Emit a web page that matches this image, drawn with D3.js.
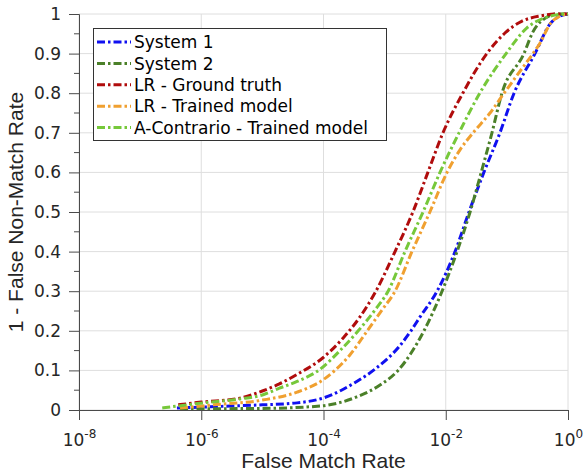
<!DOCTYPE html>
<html>
<head>
<meta charset="utf-8">
<script src="https://cdnjs.cloudflare.com/ajax/libs/d3/7.8.5/d3.min.js"></script>
<style>
body { margin: 0; background: #fff; }
svg { display: block; }
</style>
</head>
<body>
<svg class="roc" width="584" height="471"></svg>
<script>
// tick values
var xTicks = [1e-8, 1e-6, 1e-4, 1e-2, 1];
var xTickExp = ["-8", "-6", "-4", "-2", "0"];
var yTicks = [0, 0.1, 0.2, 0.3, 0.4, 0.5, 0.6, 0.7, 0.8, 0.9, 1];
var yMinorTicks = [0.05, 0.15, 0.25, 0.35, 0.45, 0.55, 0.65, 0.75, 0.85, 0.95];

// series: [false match rate, 1 - false non-match rate]
var seriesNames = ["System 1", "System 2", "LR - Ground truth", "LR - Trained model", "A-Contrario - Trained model"];
var seriesColours = ["#1010f0", "#4b8029", "#b00c0c", "#f0a030", "#76c83a"];

var system1 = [[4.0e-7, 0.005], [2.95e-6, 0.01], [1.0e-5, 0.013], [3.7e-5, 0.018], [9.8e-5, 0.03],
    [3.5e-4, 0.072], [7.2e-4, 0.105], [1.79e-3, 0.163], [2.7e-3, 0.2], [3.8e-3, 0.235], [7.2e-3, 0.3],
    [1.42e-2, 0.4], [2.4e-2, 0.5], [4.2e-2, 0.6], [7.7e-2, 0.7], [0.131, 0.8], [0.288, 0.9],
    [0.51, 0.975], [0.74, 0.995], [1, 1]];
var system2 = [[4.5e-7, 0.003], [1.0e-5, 0.004], [8.8e-5, 0.01], [3.5e-4, 0.033], [8.4e-4, 0.063],
    [1.66e-3, 0.1], [4.4e-3, 0.2], [8.7e-3, 0.3], [1.53e-2, 0.4], [2.5e-2, 0.5], [3.8e-2, 0.6],
    [5.7e-2, 0.7], [8.3e-2, 0.8], [0.19, 0.9], [0.267, 0.955], [0.45, 0.992], [0.66, 1], [1, 1]];
var lrGroundTruth = [[4.2e-7, 0.013], [1.0e-6, 0.02], [4.3e-6, 0.03], [1.0e-5, 0.048], [1.9e-5, 0.066],
    [3.7e-5, 0.09], [9.8e-5, 0.132], [2.1e-4, 0.182], [3.95e-4, 0.235], [7.2e-4, 0.3], [1.48e-3, 0.4],
    [2.9e-3, 0.5], [5.1e-3, 0.6], [9.0e-3, 0.7], [1.9e-2, 0.8], [4.7e-2, 0.9], [9.3e-2, 0.952],
    [0.177, 0.982], [0.35, 0.995], [0.66, 1], [1, 1]];
var lrTrained = [[4.5e-7, 0.005], [1.56e-6, 0.013], [1.0e-5, 0.025], [3.7e-5, 0.045], [9.8e-5, 0.076],
    [1.54e-4, 0.1], [2.7e-4, 0.139], [5.2e-4, 0.2], [9.1e-4, 0.253], [1.48e-3, 0.3], [2.8e-3, 0.4],
    [5.5e-3, 0.5], [1.05e-2, 0.6], [1.71e-2, 0.657], [2.8e-2, 0.7], [5.3e-2, 0.75], [9.0e-2, 0.8],
    [0.184, 0.866], [0.267, 0.9], [0.35, 0.927], [0.51, 0.975], [0.74, 0.995], [1, 1]];
var aContrario = [[2.3e-7, 0.005], [1.07e-6, 0.018], [4.3e-6, 0.028], [1.0e-5, 0.038], [1.9e-5, 0.055],
    [3.7e-5, 0.072], [8.8e-5, 0.103], [1.86e-4, 0.15], [3.7e-4, 0.2], [7.0e-4, 0.253], [1.14e-3, 0.3],
    [2.15e-3, 0.4], [4.25e-3, 0.5], [8.05e-3, 0.6], [1.65e-2, 0.7], [3.6e-2, 0.8], [9.7e-2, 0.9],
    [0.213, 0.965], [0.45, 0.992], [0.96, 1], [1, 1]];

(function rocChartIIFE(){
    var svg = d3.select("svg.roc"),
        margin = {top: 14, right: 16, bottom: 61, left: 79},
        width = +svg.attr("width") - margin.left - margin.right,
        height = +svg.attr("height") - margin.top - margin.bottom,
        g = svg.append("g").attr("transform", "translate(" + margin.left + "," + margin.top + ")");

    var tickFont = "DejaVu Sans, sans-serif";
    var labelFont = "Liberation Sans, Arial, sans-serif";
    var axisColour = "#4a4a4a";
    var allSeries = [system1, system2, lrGroundTruth, lrTrained, aContrario];

    var x = d3.scaleLog().domain([1e-8, 1]).range([0, width]);
    var y = d3.scaleLinear().domain([0, 1]).range([height, 0]);

    // grid
    g.append("g").selectAll("line").data(yTicks).enter().append("line")
        .attr("x1", 0).attr("x2", width)
        .attr("y1", function(d) { return y(d); }).attr("y2", function(d) { return y(d); })
        .attr("stroke", "#dedede").attr("stroke-width", 1);
    g.append("g").selectAll("line").data(xTicks).enter().append("line")
        .attr("y1", 0).attr("y2", height)
        .attr("x1", function(d) { return x(d); }).attr("x2", function(d) { return x(d); })
        .attr("stroke", "#dedede").attr("stroke-width", 1);

    // curves
    var line = d3.line()
        .x(function(d) { return x(d[0]); })
        .y(function(d) { return y(d[1]); })
        .curve(d3.curveMonotoneX);

    allSeries.forEach(function(s, i) {
        g.append("path")
            .datum(s)
            .attr("fill", "none")
            .attr("stroke", seriesColours[i])
            .attr("stroke-width", 3)
            .attr("stroke-dasharray", "8,3,2.5,3")
            .attr("d", line);
    });

    // y axis
    var yAxis = g.append("g")
        .call(d3.axisLeft(y).tickValues(yTicks).tickSize(10).tickPadding(8).tickFormat(d3.format("~g")));
    yAxis.select(".domain").attr("stroke", axisColour);
    yAxis.selectAll(".tick line").attr("stroke", axisColour);
    yAxis.selectAll("text")
        .style("font-family", tickFont)
        .style("font-size", "17px")
        .attr("fill", "#262626");
    g.append("g").selectAll("line").data(yMinorTicks).enter().append("line")
        .attr("x1", -5).attr("x2", 0)
        .attr("y1", function(d) { return y(d); }).attr("y2", function(d) { return y(d); })
        .attr("stroke", axisColour);

    // x axis
    var xAxis = g.append("g")
        .attr("transform", "translate(0," + height + ")")
        .call(d3.axisBottom(x).tickValues(xTicks).tickSize(10).tickFormat(function() { return ""; }));
    xAxis.select(".domain").attr("stroke", axisColour);
    xAxis.selectAll(".tick line").attr("stroke", axisColour);
    xAxis.selectAll(".tick text").each(function(d, i) {
        var t = d3.select(this)
            .attr("y", 36).attr("dy", null)
            .style("font-family", tickFont)
            .style("font-size", "17px")
            .attr("fill", "#262626");
        t.append("tspan").text("10");
        t.append("tspan").attr("dy", -8).style("font-size", "12px").text(xTickExp[i]);
    });

    // axis labels
    g.append("text")
        .attr("x", width / 2)
        .attr("y", height + 58)
        .attr("text-anchor", "middle")
        .style("font-family", labelFont)
        .style("font-size", "21px")
        .attr("fill", "#262626")
        .text("False Match Rate");
    g.append("text")
        .attr("transform", "translate(" + (-56) + "," + (height / 2) + ") rotate(-90)")
        .attr("text-anchor", "middle")
        .style("font-family", labelFont)
        .style("font-size", "21px")
        .attr("fill", "#262626")
        .text("1 - False Non-Match Rate");

    // legend
    var legend = svg.append("g").attr("transform", "translate(93,28)");
    legend.append("rect")
        .attr("x", 0.5).attr("y", 0.5)
        .attr("width", 293).attr("height", 112)
        .attr("fill", "#fff")
        .attr("stroke", "#333").attr("stroke-width", 1);
    seriesNames.forEach(function(name, i) {
        var row = legend.append("g").attr("transform", "translate(0," + (14 + i * 21.4) + ")");
        row.append("line")
            .attr("x1", 4).attr("x2", 38)
            .attr("stroke", seriesColours[i])
            .attr("stroke-width", 3)
            .attr("stroke-dasharray", "8,3,2.5,3");
        row.append("text")
            .attr("x", 41).attr("dy", "0.36em")
            .style("font-family", tickFont)
            .style("font-size", "17px")
            .attr("fill", "#000")
            .text(name);
    });
})();
</script>
</body>
</html>
